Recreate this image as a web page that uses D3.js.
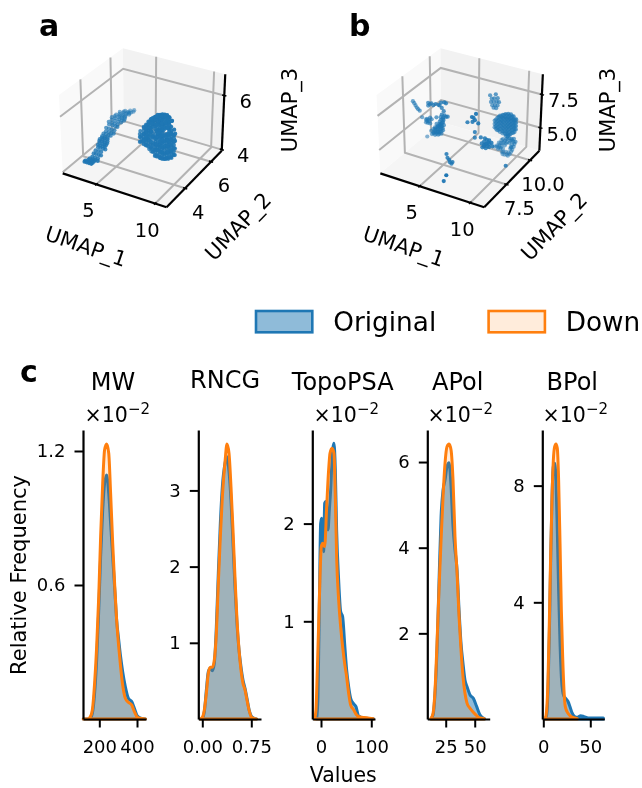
<!DOCTYPE html>
<html><head><meta charset="utf-8">
<script src="https://cdn.jsdelivr.net/npm/d3@7"></script>
<style>html,body{margin:0;padding:0;background:#fff}svg{display:block;font-family:"DejaVu Sans",sans-serif;filter:blur(.35px)}</style>
</head><body><svg id="c" width="642" height="788"></svg>
<script>
// ---- panel c: density curves (values in units of the axis; frequency x10^-2 where noted)
const mwX=[115,136,151,163,175,186,197,207,218,228,239,250,260,271,282,292,303,313,324,338,354,372,386,402,425,445];
const mwOrig=[0,0,.003,.025,.115,.264,.488,.727,.936,1.055,1.093,1.01,.876,.727,.578,.443,.354,.279,.212,.145,.093,.078,.048,.013,.002,0];
const mwDown=[0,0,.008,.04,.16,.324,.548,.816,1.055,1.204,1.231,1.19,1.01,.787,.593,.443,.324,.234,.152,.093,.075,.063,.033,.008,.002,0];
const rncgX=[-.03,.001,.031,.062,.092,.123,.154,.184,.215,.245,.276,.307,.348,.378,.409,.439,.470,.500,.531,.562,.592,.623,.654,.684,.715,.756,.807,.83];
const rncgOrig=[0,.013,.096,.381,.621,.665,.634,.731,1.212,1.912,2.568,3.049,3.355,3.443,3.246,2.874,2.305,1.737,1.255,.906,.687,.512,.402,.271,.127,.031,.004,0];
const rncgDown=[0,.022,.118,.337,.6,.678,.678,.774,1.124,1.78,2.393,2.918,3.377,3.609,3.486,3.049,2.48,1.868,1.299,.906,.643,.468,.381,.249,.118,.022,.004,0];
const topoXOrig=[-8.6,-6,-3.3,-.7,1.3,3.3,5.3,7.3,9.3,11.3,13.9,16.6,19.2,21.9,25.8,28.5,31.1,35.1,39.1,43,47,51,55,59,64.3,69.6,74.9,87.5,104];
const topoOrig=[.003,.229,1.15,2.003,2.055,1.799,1.713,2.208,2.225,2.072,1.935,2.14,2.345,2.652,2.823,2.549,1.935,1.423,1.099,1.048,.775,.502,.331,.212,.16,.126,.031,.007,.003];
const topoXDown=[-12.6,-10,-7.3,-4.6,-2,.7,3.3,7.3,11.3,15.2,17.9,21.9,25.8,28.5,31.1,35.1,39.1,43,47,51,55,59,64.3,70.9,77.5,90.8,104];
const topoDown=[.003,.092,.502,.98,1.457,1.765,1.799,1.765,2.174,2.549,2.72,2.771,2.72,2.276,1.662,1.218,.945,.741,.57,.433,.263,.143,.099,.041,.02,.014,.003];
const apolX=[12.3,14.1,15.8,17.5,19.2,21,22.7,24.4,26.1,27.9,29.6,31.3,33,34.8,36.5,38.2,39.9,41.6,43.4,46,48.8,51.7,54.6,58.3];
const apolOrig=[.008,.093,.599,1.611,3.167,4.724,5.346,5.58,5.891,5.984,5.424,4.49,3.946,3.479,2.545,1.767,1.3,.911,.755,.56,.482,.288,.093,.008];
const apolDown=[.016,.132,.677,1.767,3.012,4.179,5.191,5.969,6.358,6.42,6.28,5.58,4.257,3.401,2.389,1.611,.988,.599,.366,.249,.156,.078,.023,.008];
const bpolXOrig=[2.2,3.6,5,6.4,7.8,9.3,10.7,12.1,13.5,14.9,16.3,17.8,19.2,20.6,22,23.4,26.3,28.4,30.5,33.4,36.2,39.8,43.3,47.9,63.9];
const bpolOrig=[.011,.137,.994,2.823,5.337,7.623,8.651,8.766,8.194,6.48,4.423,2.594,1.451,.95,.78,.72,.6,.42,.22,.08,.057,.114,.08,.034,.034];
const bpolXDown=[2.2,3.6,5,6.4,7.8,9.3,10.7,12.1,13.5,14.9,16.3,17.8,19.2,20.6,22,23.4,26.3,28.4,30.5,33.4,36.2];
const bpolDown=[.011,.309,1.337,3.28,5.566,7.623,8.88,9.337,9.429,9.28,8.194,6.023,3.737,2.137,.994,.423,.194,.114,.069,.034,.011];

// ---- panels a, b: UMAP embeddings
// a, elongated cluster rows: [UMAP_2, UMAP_3, [UMAP_1 ...]]
const aStrand=[[3.10,4.37,[3.4,3.6,3.8,4.0]],[3.22,4.34,[3.3,3.55,3.75,3.95]],[3.35,4.32,[3.4,3.65,3.9]],[3.48,4.30,[3.35,3.6,3.8,4.05]],[3.61,4.31,[3.4,3.65,3.9]],[3.74,4.37,[3.35,3.55,3.8,4.0]],[3.87,4.42,[3.35,3.6,3.85]],[4.0,4.48,[3.4,3.6,3.85,4.05]],[4.07,4.52,[3.3,3.5,3.7,3.9]],[4.14,4.56,[3.35,3.6,3.8,3.95]],[4.2,4.6,[3.25,3.5,3.75,3.95]],[4.27,4.63,[3.2,3.45,3.65,3.9]],[4.34,4.67,[3.3,3.55,3.8]],[4.40,4.69,[3.25,3.5,3.75]],[4.53,4.72,[3.2,3.4,3.65,3.85]],[4.66,4.75,[3.25,3.5,3.75,3.95]],[4.79,4.80,[3.1,3.35,3.6,3.85]],[4.92,4.88,[3.2,3.5,3.75,3.95]],[5.05,4.90,[3.0,3.3,3.55,3.8]],[5.18,4.93,[3.1,3.4,3.7,3.95]],[5.31,4.95,[2.95,3.25,3.6,3.85,4.05]],[5.44,4.95,[3.05,3.4,3.7,3.95]],[5.57,4.94,[3.0,3.3,3.55,3.8]],[5.70,4.93,[3.15,3.45,3.7]],[5.83,4.93,[3.0,3.3,3.6,3.85]],[5.96,4.91,[3.2,3.5,3.7]],[6.14,4.85,[3.1,3.4,3.65]],[6.31,4.81,[3.35,3.65]],[6.44,4.80,[3.55]]];
// a, round cluster rows: [UMAP_1, UMAP_2, [UMAP_3 ...]]
const aBlob=[[5.85,5.0,[4.52,4.7,4.81]],[6.02,4.9,[4.6,4.78,4.99]],[6.08,5.1,[4.42,4.62,4.8]],[6.25,5.12,[4.4,4.57,4.86,5.02]],[6.3,4.92,[4.66,4.9,5.17]],[6.47,5.06,[4.43,4.7,4.79,5.0,5.2]],[6.55,4.88,[4.55,4.85,5.05,5.3]],[6.68,5.15,[4.3,4.52,4.66,4.95,5.1,5.25]],[6.8,4.9,[4.42,4.75,5.0,5.2,5.42]],[6.93,5.08,[4.25,4.6,4.82,5.28,5.37]],[7.04,4.86,[4.38,4.55,4.92,5.13,5.4,5.57]],[7.12,5.14,[4.12,4.31,4.47,4.72,5.02,5.24,5.42]],[7.26,4.93,[4.21,4.44,4.66,4.86,5.2,5.55,5.64]],[7.33,5.1,[4.15,4.36,4.55,4.93,5.1,5.33,5.5]],[7.47,4.88,[4.24,4.5,4.7,4.96,5.14,5.4,5.7]],[7.55,5.12,[4.08,4.3,4.62,4.83,5.05,5.27,5.46,5.62]],[7.69,4.95,[4.18,4.41,4.58,4.78,5.0,5.2,5.52,5.74]],[7.78,5.1,[4.1,4.28,4.5,4.72,4.93,5.14,5.34,5.6]],[7.9,4.88,[4.26,4.48,4.66,4.9,5.08,5.3,5.5,5.76]],[8.02,5.14,[4.12,4.33,4.56,4.8,4.98,5.42,5.62]],[8.15,4.92,[4.22,4.42,4.7,4.88,5.12,5.34,5.56,5.78]],[8.26,5.08,[4.16,4.38,4.6,4.78,5.03,5.26,5.48,5.68]],[8.38,4.9,[4.3,4.52,4.74,4.95,5.18,5.4,5.72]],[8.48,5.12,[4.2,4.43,4.66,4.86,5.08,5.56]],[8.62,4.94,[4.34,4.58,4.8,5.0,5.22,5.44,5.66]],[8.74,5.06,[4.38,4.62,4.88,5.1,5.3]],[8.9,5.0,[4.42,4.66,4.94,5.2]]];
const aBlobMore=[[6.0,5.0,[4.56,4.68,4.8]],[6.2,5.0,[4.5,4.62,4.74,4.86,4.98,5.08]],[6.4,5.0,[4.46,4.58,4.7,4.82,4.94,5.06,5.18]],[6.6,5.0,[4.44,4.56,4.68,4.8,4.92,5.04,5.16,5.28,5.36]],[6.8,5.0,[4.42,4.54,4.66,4.9,5.02,5.14,5.26,5.38,5.46]],[7.0,5.0,[4.3,4.42,4.54,4.86,4.98,5.22,5.34,5.46,5.54]],[7.2,5.0,[4.2,4.32,4.44,4.56,4.68,4.8,4.92,5.26,5.38,5.5,5.6]],[7.4,5.0,[4.18,4.3,4.42,4.54,4.66,4.78,4.9,5.02,5.14,5.26,5.38,5.5,5.62,5.7]],[7.6,5.0,[4.16,4.28,4.4,4.52,4.64,4.76,4.88,5.0,5.12,5.24,5.36,5.48,5.6,5.72]],[7.8,5.0,[4.14,4.26,4.38,4.5,4.62,4.74,4.86,4.98,5.1,5.22,5.34,5.46,5.58,5.7,5.76]],[8.0,5.0,[4.16,4.28,4.4,4.52,4.64,4.76,4.88,5.0,5.34,5.46,5.58,5.7,5.78]],[8.2,5.0,[4.2,4.32,4.44,4.56,4.68,4.8,4.92,5.02,5.34,5.46,5.58,5.7,5.78]],[8.4,5.0,[4.26,4.38,4.5,4.62,4.74,4.86,4.98,5.1,5.22,5.34,5.46,5.58,5.72]],[8.6,5.0,[4.32,4.44,4.56,4.68,4.8,4.92,5.04,5.16,5.28,5.62]],[8.8,5.0,[4.42,4.54,4.66,4.78,4.9,5.02,5.14]]];
// b: clusters as [UMAP_1, UMAP_2, UMAP_3]
const bArc=[[1.13,8.2,6.75],[1.27,8.2,6.63],[1.40,8.2,6.49],[1.53,8.2,6.35],[1.67,8.2,6.26],[1.83,8.2,6.18]];
const bLeftTop=[[2.73,8.2,6.95],[2.90,8.2,6.87],[3.07,8.2,6.99],[3.27,8.2,6.89],[3.50,8.2,7.02],[3.80,8.2,7.02],[4.07,8.2,7.24],[4.40,8.2,7.33],[4.57,8.2,7.29],[2.73,8.2,6.75]];
const bLeftMid=[[2.07,8.2,5.73],[2.57,8.2,5.71],[2.47,8.2,5.43],[2.73,8.2,5.70],[2.90,8.2,5.87],[2.67,8.2,5.43],[3.07,8.2,5.79],[3.57,8.2,6.04],[2.90,8.2,5.44],[2.47,8.2,5.63],[2.6,8.2,5.55],[2.8,8.2,5.58]];
const bChain=[[3.90,8.2,7.0],[4.13,8.2,6.86],[4.33,8.2,6.66],[4.13,8.2,6.36],[4.40,8.2,6.37],[4.0,8.2,6.15],[4.23,8.2,6.08],[4.57,8.2,6.29],[4.73,8.2,6.33],[3.90,8.2,5.80],[4.23,8.2,5.83],[3.73,8.2,5.45],[4.0,8.2,5.57],[4.33,8.2,5.61],[3.40,8.2,5.12],[3.73,8.2,5.20],[4.07,8.2,5.29],[3.23,8.2,4.83],[3.57,8.2,4.91],[3.90,8.2,5.0],[4.23,8.2,5.2],[3.07,8.2,4.66],[3.40,8.2,4.67],[3.73,8.2,4.75],[2.57,8.2,4.36],[4.07,8.2,4.91],[3.0,8.2,4.89],[3.57,8.2,5.29],[3.90,8.2,5.37],[3.57,8.2,5.54],[3.9,8.2,5.62],[4.13,8.2,5.5],[3.40,8.2,4.87],[3.73,8.2,4.95],[3.23,8.2,5.08],[3.4,8.2,5.0],[3.57,8.2,5.1],[3.73,8.2,5.35],[3.73,8.2,5.05],[3.9,8.2,5.15],[4.07,8.2,5.1],[4.07,8.2,5.45],[4.07,8.2,5.7],[3.9,8.2,5.5],[4.2,8.2,5.35],[3.25,8.2,4.75],[3.55,8.2,4.78],[3.85,8.2,4.85],[3.4,8.2,5.25],[4.2,8.2,5.75],[4.3,8.2,6.0],[4.05,8.2,5.95],[4.3,8.2,6.2]];
const bCentre=[[6.73,8.2,6.34],[7.17,8.2,6.82],[7.33,8.2,6.79],[7.57,8.2,7.13],[7.47,8.2,6.65],[7.80,8.2,6.48],[7.23,8.2,6.47],[7.47,8.2,5.77],[7.47,8.2,5.35],[8.07,8.2,5.50]];
const bFront=[[5.88,7,4.61],[5.98,7,4.34],[6.15,7,4.23],[6.22,7,4.07],[6.38,7,3.99],[6.48,7,4.14],[6.93,6,3.99],[6.67,6,3.49],[10.565,8.2,3.93]];
const bMiddle=[[8.40,8.2,5.26],[8.67,8.2,5.45],[8.90,8.2,5.46],[8.40,8.2,5.01],[8.67,8.2,5.15],[8.93,8.2,5.19],[8.23,8.2,4.79],[8.57,8.2,4.80],[8.90,8.2,4.96],[9.13,8.2,5.32],[9.23,8.2,5.09],[8.47,8.2,5.52],[8.17,8.2,5.07],[8.55,8.2,5.1],[8.8,8.2,5.3],[8.75,8.2,5.0],[8.4,8.2,4.9]];
const bUpper=[[7.74,10,7.46],[7.34,10,7.06],[7.60,10,7.13],[7.94,10,7.21],[7.27,10,6.79],[7.54,10,6.86],[7.84,10,6.93],[8.07,10,6.94],[7.40,10,6.57],[7.67,10,6.64],[7.94,10,6.66],[7.54,10,6.41],[7.80,10,6.43],[7.17,10,7.27]];
// b, large round cluster rows: [UMAP_1, UMAP_2, [UMAP_3 ...]]
const bBlob=[[7.87,9.8,[5.64,5.39,5.14]],[8.135,9.8,[5.91,5.66,5.41,5.16,4.96]],[8.40,9.8,[6.13,5.87,5.62,5.37,5.12,4.9]],[8.67,9.8,[6.24,5.99,5.74,5.49,5.24,4.99,4.84]],[8.935,9.8,[6.36,6.11,5.86,5.61,5.36,5.11,4.86]],[9.20,9.8,[6.43,6.18,5.93,5.68,5.43,5.18,4.93,4.72]],[9.47,9.8,[6.45,6.20,5.95,5.70,5.45,5.19,4.94]],[9.735,9.8,[6.36,6.11,5.86,5.61,5.36,5.11]],[10.0,9.8,[6.18,5.93,5.68,5.43]],[8.0,9.8,[5.75,5.5,5.25,5.05]],[8.27,9.8,[6.0,5.75,5.5,5.25,5.0]],[8.53,9.8,[6.1,5.87,5.62,5.37,5.12]],[8.8,9.8,[6.25,6.0,5.75,5.5,5.25,5.0]],[9.07,9.8,[6.3,6.05,5.8,5.55,5.3,5.05,4.85]],[9.33,9.8,[6.33,6.08,5.83,5.58,5.33,5.08,4.85]],[9.6,9.8,[6.3,6.05,5.8,5.55,5.3,5.07]],[9.87,9.8,[6.15,5.9,5.65,5.4,5.2]]];
const bRing=[[9.0,9.8,4.72],[8.735,9.8,4.41],[9.07,9.8,4.49],[8.5,9.8,4.05],[8.835,9.8,4.18],[9.17,9.8,4.27],[8.17,9.8,3.81],[7.935,9.8,3.65],[8.335,9.8,3.68],[8.6,9.8,3.87],[8.5,9.8,3.60],[8.67,9.8,3.39],[8.935,9.8,3.24],[9.27,9.8,3.24],[9.6,9.8,3.62],[9.835,9.8,4.06],[10.0,9.8,4.48],[9.67,9.8,4.52],[9.4,9.8,4.27],[9.67,9.8,4.19],[9.5,9.8,3.85],[8.335,9.8,4.05],[8.935,9.8,3.96],[8.77,9.8,3.66],[9.07,9.8,3.49],[9.335,9.8,3.51],[8.735,9.8,3.25],[9.6,9.8,4.63],[9.27,9.8,4.79],[9.835,9.8,4.68],[8.6,9.8,4.3],[8.7,9.8,4.1],[8.95,9.8,4.35],[9.2,9.8,4.55],[9.05,9.8,4.15],[8.4,9.8,3.85],[8.25,9.8,3.55],[8.55,9.8,3.7],[8.8,9.8,3.45],[9.15,9.8,3.3],[9.45,9.8,3.4],[9.7,9.8,3.8],[9.9,9.8,4.3],[9.5,9.8,4.45],[9.8,9.8,4.45],[9.55,9.8,4.0],[8.15,9.8,3.7],[9.6,9.8,3.95],[9.4,9.8,4.6]];

const aXTicks=[5,10], aYTicks=[4,6], aZTicks=[4,6];
const bXTicks=[5,10], bYTicks=[7.5,10], bZTicks=[5,7.5];
const aLimits={x:[2.0,10.93],y:[2.67,6.88],z:[3.96,6.75]};
const bLimits={x:[.94,11.33],y:[5.31,11.04],z:[3.22,8.98]};
const seriesNames=["Original","Down"];

const BLUE="#1f77b4", ORANGE="#ff7f0e", FONT_TICK=18;
const svg=d3.select("#c");

// ---------- 3-D panels (matplotlib's default camera: elev 30, azim -60, focal 1, dist 10)
const U=[.866025,.5,0], V=[-.25,.433013,.866025], W=[.433013,-.75,.5];
const dot=(a,b)=>a[0]*b[0]+a[1]*b[1]+a[2]*b[2];
function scene(o){
  const g=svg.append("g");
  const bx=d3.scaleLinear(o.lim.x,[-.5949,.5949]), by=d3.scaleLinear(o.lim.y,[-.5949,.5949]), bz=d3.scaleLinear(o.lim.z,[-.4462,.4462]);
  const sx=d3.scaleLinear([-.1,.1],[o.cx-100,o.cx+100]), sy=d3.scaleLinear([-.1,.1],[o.cy+100,o.cy-100]);
  const P=(x,y,z)=>{const p=[bx(x),by(y),bz(z)], d=10-dot(p,W); return [sx(dot(p,U)/d),sy(dot(p,V)/d),dot(p,W)];};
  const [x0,x1]=o.lim.x,[y0,y1]=o.lim.y,[z0,z1]=o.lim.z;
  const path=pts=>d3.line()(pts.map(p=>P(...p)));
  [[[[x0,y0,z0],[x0,y1,z0],[x0,y1,z1],[x0,y0,z1]],"#f9f9f9"],
   [[[x0,y1,z0],[x1,y1,z0],[x1,y1,z1],[x0,y1,z1]],"#f2f2f2"],
   [[[x0,y0,z0],[x1,y0,z0],[x1,y1,z0],[x0,y1,z0]],"#f5f5f5"]].forEach(([c,f])=>
     g.append("path").attr("d",path(c)+"Z").attr("fill",f));
  const grid=pts=>g.append("path").attr("d",path(pts)).attr("fill","none").attr("stroke","#b3b3b3").attr("stroke-width",2);
  o.xt.forEach(v=>grid([[v,y0,z0],[v,y1,z0],[v,y1,z1]]));
  o.yt.forEach(v=>grid([[x1,v,z0],[x0,v,z0],[x0,v,z1]]));
  o.zt.forEach(v=>grid([[x0,y0,v],[x0,y1,v],[x1,y1,v]]));
  const ax=pts=>g.append("path").attr("d",path(pts)).attr("fill","none").attr("stroke","#000").attr("stroke-width",2.2);
  ax([[x0,y0,z0],[x1,y0,z0]]); ax([[x1,y0,z0],[x1,y1,z0]]); ax([[x1,y1,z0],[x1,y1,z1]]);
  const tk=pts=>g.append("path").attr("d",path(pts)).attr("stroke","#000").attr("stroke-width",1.5);
  const dx=(x1-x0)*.02, dy=(y1-y0)*.02;
  const lab=(p,off,t)=>{const s=P(...p);g.append("text").attr("x",s[0]+off[0]).attr("y",s[1]+off[1]).attr("text-anchor","middle").attr("dominant-baseline","central").attr("font-size",19.5).attr("fill","#000").text(t);};
  o.xt.forEach(v=>{tk([[v,y0-dy,z0],[v,y0+dy,z0]]);lab([v,y0,z0],[-8,26.5],v);});
  o.yt.forEach(v=>{tk([[x1+dx,v,z0],[x1-dx,v,z0]]);lab([x1,v,z0],[13,24],d3.format(o.fy)(v));});
  o.zt.forEach(v=>{tk([[x1+dx,y1,v],[x1-dx,y1,v]]);lab([x1,y1,v],[21.5,6.3],d3.format(o.fz)(v));});
  o.titles.forEach(t=>g.append("text").attr("transform",`translate(${t.p}) rotate(${t.r})`).attr("text-anchor","middle").attr("dominant-baseline","central").attr("font-size",21).attr("fill","#000").text(t.s));
  const pts=o.points.map(p=>P(...p)).sort((a,b)=>a[2]-b[2]);
  const alpha=d3.scaleLinear(d3.extent(pts,p=>p[2]),[.5,1]);
  g.selectAll("circle").data(pts).join("circle").attr("cx",p=>p[0]).attr("cy",p=>p[1]).attr("r",2.1).attr("fill",BLUE).attr("fill-opacity",p=>alpha(p[2]));
  g.append("text").attr("x",o.letter[0]).attr("y",o.letter[1]).attr("font-size",30).attr("font-weight","bold").attr("fill","#000").text(o.name);
}
const strandRows=rows=>rows.flatMap(([y,z,xs])=>xs.map(x=>[x,y,z]));
const blobRows=rows=>rows.flatMap(([x,y,zs])=>zs.map(z=>[x,y,z]));
scene({name:"a",letter:[39,36],lim:aLimits,cx:143.7,cy:124,xt:aXTicks,yt:aYTicks,zt:aZTicks,fy:"d",fz:"d",
  points:[...strandRows(aStrand),...blobRows(aBlob),...blobRows(aBlobMore)],
  titles:[{s:"UMAP_1",p:[86,246.7],r:19},{s:"UMAP_2",p:[238.3,226.7],r:-46},{s:"UMAP_3",p:[290,110],r:-90}]});
scene({name:"b",letter:[349,36],lim:bLimits,cx:461.3,cy:124,xt:bXTicks,yt:bYTicks,zt:bZTicks,fy:".1f",fz:".1f",
  points:[...bArc,...bLeftTop,...bLeftMid,...bChain,...bCentre,...bFront,...bMiddle,...bUpper,...blobRows(bBlob),...bRing],
  titles:[{s:"UMAP_1",p:[403.7,246.7],r:19},{s:"UMAP_2",p:[554.3,226.7],r:-46},{s:"UMAP_3",p:[607.7,110],r:-90}]});

// ---------- legend
[[256,333.3,BLUE,.5],[488.6,565.7,ORANGE,.15]].forEach(([x,tx,c,a],i)=>{
  svg.append("rect").attr("x",x).attr("y",311).attr("width",56.3).attr("height",21.3).attr("fill",c).attr("fill-opacity",a).attr("stroke",c).attr("stroke-width",2.6);
  svg.append("text").attr("x",tx).attr("y",330.7).attr("font-size",26.3).attr("fill","#000").text(seriesNames[i]);
});

// ---------- density panels
const TOP=430,BOTTOM=719;
const panels=[
 {t:"MW",tx:113,ty:390,xr:[83,146],xd:[113.5,447.7],yd:[0,1.294],xt:[200,400],yt:[.6,1.2],fx:"d",fy:".1f",ox:150,xo:mwX,o:mwOrig,xn:mwX,n:mwDown},
 {t:"RNCG",tx:225,ty:388,xr:[198.3,261],xd:[-.0612,.8985],yd:[0,3.793],xt:[0,.75],yt:[1,2,3],fx:".2f",fy:"d",ox:null,xo:rncgX,o:rncgOrig,xn:rncgX,n:rncgDown},
 {t:"TopoPSA",tx:342.7,ty:390,xr:[312.3,375],xd:[-17.3,107.4],yd:[0,2.958],xt:[0,100],yt:[1,2],fx:"d",fy:"d",ox:379,xo:topoXOrig,o:topoOrig,xn:topoXDown,n:topoDown},
 {t:"APol",tx:457.7,ty:390,xr:[427.3,489.7],xd:[9.14,62.9],yd:[0,6.748],xt:[25,50],yt:[2,4,6],fx:"d",fy:"d",ox:493,xo:apolX,o:apolOrig,xn:apolX,n:apolDown},
 {t:"BPol",tx:572.3,ty:390,xr:[542.3,604.3],xd:[-1.06,64.9],yd:[0,9.907],xt:[0,50],yt:[4,8],fx:"d",fy:"d",ox:608,xo:bpolXOrig,o:bpolOrig,xn:bpolXDown,n:bpolDown}];
panels.forEach(p=>{
  const g=svg.append("g");
  const x=d3.scaleLinear(p.xd,p.xr), y=d3.scaleLinear(p.yd,[BOTTOM,TOP]);
  const area=(xs,ys)=>d3.area().x((d,i)=>x(xs[i])).y0(BOTTOM).y1(d=>y(d)).curve(d3.curveMonotoneX)(ys);
  g.append("path").attr("d",area(p.xo,p.o)).attr("fill",BLUE).attr("fill-opacity",.5).attr("stroke",BLUE).attr("stroke-width",3).attr("stroke-linejoin","round");
  g.append("path").attr("d",area(p.xn,p.n)).attr("fill",ORANGE).attr("fill-opacity",.15).attr("stroke",ORANGE).attr("stroke-width",3).attr("stroke-linejoin","round");
  const xa=g.append("g").attr("transform",`translate(0,${BOTTOM})`).call(d3.axisBottom(x).tickValues(p.xt).tickFormat(d3.format(p.fx)).tickSize(8.5).tickSizeOuter(0).tickPadding(12.5));
  const ya=g.append("g").attr("transform",`translate(${p.xr[0]},0)`).call(d3.axisLeft(y).tickValues(p.yt).tickFormat(d3.format(p.fy)).tickSize(8.5).tickSizeOuter(0).tickPadding(9));
  [xa,ya].forEach(a=>{a.select(".domain").attr("stroke","#000").attr("stroke-width",2.2);
    a.selectAll(".tick line").attr("stroke","#000").attr("stroke-width",2);
    a.selectAll(".tick text").attr("font-size",FONT_TICK).attr("font-family",'"DejaVu Sans"').attr("fill","#000");});
  g.append("text").attr("x",p.tx).attr("y",p.ty).attr("text-anchor","middle").attr("font-size",24).attr("fill","#000").text(p.t);
  if(p.ox!==null){
    const t=g.append("text").attr("x",p.ox).attr("y",422).attr("text-anchor","end").attr("font-size",20.5).attr("fill","#000");
    t.append("tspan").text("×10");
    t.append("tspan").attr("dy",-8).attr("font-size",15).text("−2");
  }
});
svg.append("text").attr("x",343.3).attr("y",781.7).attr("text-anchor","middle").attr("font-size",20.5).attr("fill","#000").text("Values");
svg.append("text").attr("transform","translate(26,575) rotate(-90)").attr("text-anchor","middle").attr("font-size",21).attr("fill","#000").text("Relative Frequency");
svg.append("text").attr("x",20).attr("y",382).attr("font-size",30).attr("font-weight","bold").attr("fill","#000").text("c");
</script></body></html>
